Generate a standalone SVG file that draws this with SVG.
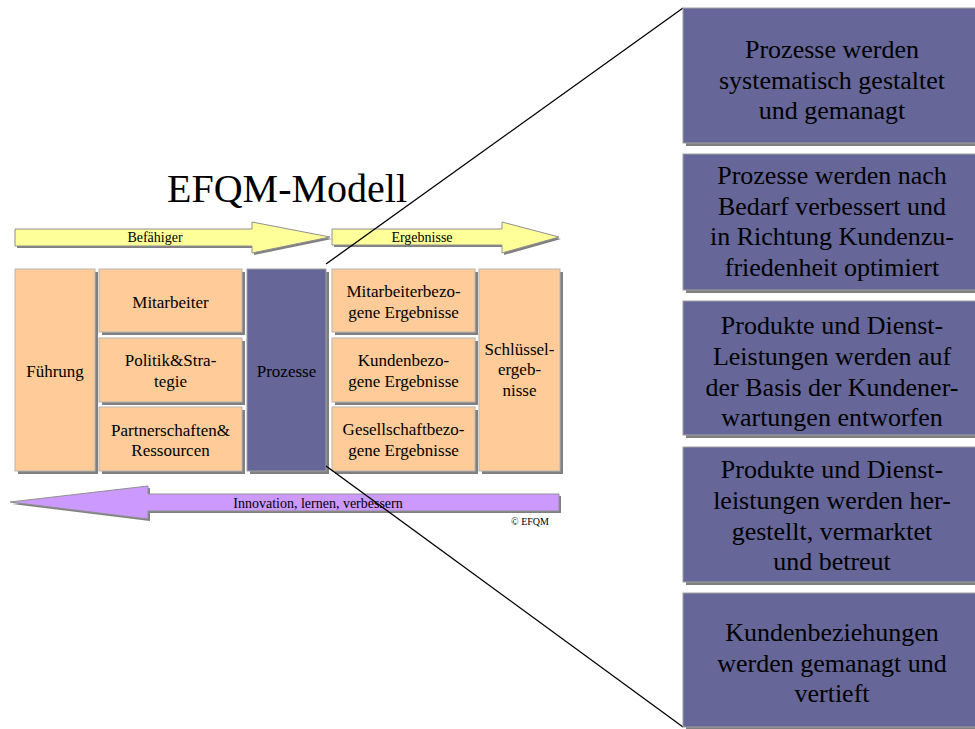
<svg xmlns="http://www.w3.org/2000/svg" width="975" height="729" viewBox="0 0 975 729">
<style>
text{font-family:"Liberation Serif","Times New Roman",serif;fill:#000;text-anchor:middle}
.sh{fill:#808080}
.peach{fill:#ffcc99;stroke:#b4b4b4;stroke-width:1}
.blue{fill:#666699;stroke:#a0a0a0;stroke-width:1}
.box{font-size:17px}
.pan{font-size:26px}
.arr{font-size:14px}
.ln{stroke:#000;stroke-width:1.3;fill:none}
</style>
<rect width="975" height="729" fill="#fff"/>
<text x="287" y="202" style="font-size:40px">EFQM-Modell</text>
<g id="arrow-befaehiger">
<polygon class="sh" points="17,231 254,231 254,224 332,239 254,255 254,248 17,248"/>
<polygon points="15,229 252,229 252,222 330,237 252,253 252,246 15,246" fill="#ffff99" stroke="#909090"/>
<text class="arr" x="155" y="242">Befähiger</text>
</g>
<g id="arrow-ergebnisse">
<polygon class="sh" points="334,231 504,231 504,224 561,239 504,255 504,247 334,247"/>
<polygon points="332,229 502,229 502,222 559,237 502,253 502,245 332,245" fill="#ffff99" stroke="#909090"/>
<text class="arr" x="422" y="242">Ergebnisse</text>
</g>
<g id="arrow-innovation">
<polygon class="sh" points="561,496 150,496 150,488 12,504 150,521 150,513 561,513"/>
<polygon points="559,494 148,494 148,486 10,502 148,519 148,511 559,511" fill="#cc99ff" stroke="#909090"/>
<text class="arr" x="318" y="508">Innovation, lernen, verbessern</text>
</g>
<g id="fuehrung"><rect class="sh" x="18" y="272" width="80" height="202"/><rect class="peach" x="15" y="269" width="80" height="202"/><text class="box" x="55" y="377">Führung</text></g>
<g id="mitarbeiter"><rect class="sh" x="102" y="272" width="143" height="63"/><rect class="peach" x="99" y="269" width="143" height="63"/><text class="box" x="170.5" y="308">Mitarbeiter</text></g>
<g id="politik"><rect class="sh" x="102" y="341" width="143" height="64"/><rect class="peach" x="99" y="338" width="143" height="64"/><text class="box" x="170.5" y="366">Politik&amp;Stra-</text><text class="box" x="170.5" y="387">tegie</text></g>
<g id="partnerschaften"><rect class="sh" x="102" y="410" width="143" height="64"/><rect class="peach" x="99" y="407" width="143" height="64"/><text class="box" x="170.5" y="436">Partnerschaften&amp;</text><text class="box" x="170.5" y="456">Ressourcen</text></g>
<g id="prozesse"><rect class="sh" x="250" y="272" width="79" height="202"/><rect class="blue" x="247" y="269" width="79" height="202"/><text class="box" x="286.5" y="377">Prozesse</text></g>
<g id="mitarbeiterergebnisse"><rect class="sh" x="335" y="272" width="143" height="63"/><rect class="peach" x="332" y="269" width="143" height="63"/><text class="box" x="403.5" y="297">Mitarbeiterbezo-</text><text class="box" x="403.5" y="318">gene Ergebnisse</text></g>
<g id="kundenergebnisse"><rect class="sh" x="335" y="341" width="143" height="64"/><rect class="peach" x="332" y="338" width="143" height="64"/><text class="box" x="403.5" y="366">Kundenbezo-</text><text class="box" x="403.5" y="387">gene Ergebnisse</text></g>
<g id="gesellschaftergebnisse"><rect class="sh" x="335" y="410" width="143" height="64"/><rect class="peach" x="332" y="407" width="143" height="64"/><text class="box" x="403.5" y="435">Gesellschaftbezo-</text><text class="box" x="403.5" y="456">gene Ergebnisse</text></g>
<g id="schluesselergebnisse"><rect class="sh" x="482" y="272" width="81" height="202"/><rect class="peach" x="479" y="269" width="81" height="202"/><text class="box" x="519.5" y="355">Schlüssel-</text><text class="box" x="519.5" y="375">ergeb-</text><text class="box" x="519.5" y="396">nisse</text></g>
<text x="530" y="525" style="font-size:10px">© EFQM</text>
<g id="connectors">
<line class="ln" x1="326" y1="264" x2="683" y2="8"/>
<line class="ln" x1="326" y1="466" x2="683" y2="727"/>
</g>
<g id="panel1"><rect class="sh" x="686" y="11" width="300" height="135"/><rect class="blue" x="683" y="8" width="300" height="135"/>
<text class="pan" x="832" y="58">Prozesse werden</text><text class="pan" x="832" y="89">systematisch gestaltet</text><text class="pan" x="832" y="119">und gemanagt</text></g>
<g id="panel2"><rect class="sh" x="686" y="157" width="300" height="136"/><rect class="blue" x="683" y="154" width="300" height="136"/>
<text class="pan" x="832" y="184">Prozesse werden nach</text><text class="pan" x="832" y="215">Bedarf verbessert und</text><text class="pan" x="832" y="245">in Richtung Kundenzu-</text><text class="pan" x="832" y="276">friedenheit optimiert</text></g>
<g id="panel3"><rect class="sh" x="686" y="304" width="300" height="134"/><rect class="blue" x="683" y="301" width="300" height="134"/>
<text class="pan" x="832" y="334">Produkte und Dienst-</text><text class="pan" x="832" y="365">Leistungen werden auf</text><text class="pan" x="832" y="396">der Basis der Kundener-</text><text class="pan" x="832" y="426">wartungen entworfen</text></g>
<g id="panel4"><rect class="sh" x="686" y="450" width="300" height="135"/><rect class="blue" x="683" y="447" width="300" height="135"/>
<text class="pan" x="832" y="478">Produkte und Dienst-</text><text class="pan" x="832" y="509">leistungen werden her-</text><text class="pan" x="832" y="540">gestellt, vermarktet</text><text class="pan" x="832" y="570">und betreut</text></g>
<g id="panel5"><rect class="sh" x="686" y="596" width="300" height="134"/><rect class="blue" x="683" y="593" width="300" height="134"/>
<text class="pan" x="832" y="641">Kundenbeziehungen</text><text class="pan" x="832" y="672">werden gemanagt und</text><text class="pan" x="832" y="702">vertieft</text></g>
</svg>
